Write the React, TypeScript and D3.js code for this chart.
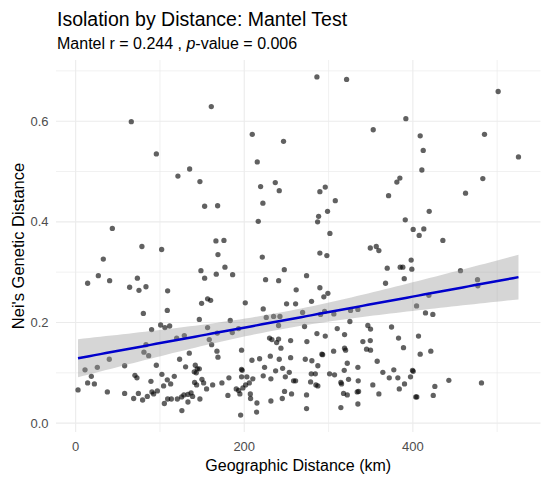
import React from "react";
import * as d3 from "d3";

const titleText = "Isolation by Distance: Mantel Test";
const mantelR = "0.244";
const pValue = "0.006";
const xAxisTitle = "Geographic Distance (km)";
const yAxisTitle = "Nei's Genetic Distance";

const xMajorTicks = [0, 200, 400];
const xMinorTicks = [100, 300, 500];
const yMajorTicks = [0, 0.2, 0.4, 0.6];
const yMinorTicks = [0.1, 0.3, 0.5, 0.7];

const distanceKm = [
  160.9, 66.0, 95.7, 135.2, 121.3, 147.4, 153.0, 168.4, 43.5, 166.4, 78.6, 102.0,
  286.2, 321.4, 353.0, 209.5, 246.6, 215.4, 236.8, 219.4, 241.5, 222.1, 216.6, 175.9,
  296.1, 289.7, 308.0, 298.8, 288.2, 287.0, 301.6, 349.5, 356.6, 359.7,
  501.2, 391.7, 408.7, 485.0, 412.3, 525.3, 410.7, 384.6, 381.0, 483.0, 371.2, 462.5,
  419.4, 391.0, 400.4, 413.0, 407.5, 435.6,
  32.8, 26.9, 14.2, 40.3, 73.2, 64.0, 75.1, 83.4, 109.1, 168.8, 148.6, 153.0, 166.8,
  156.5, 160.1, 149.4, 80.3, 108.7, 146.7, 100.8, 105.9, 111.5, 90.1, 156.5, 119.8,
  128.9, 158.5, 161.3, 83.4, 81.0, 86.6, 167.6, 134.8, 168.8, 123.3, 39.9, 11.1, 25.7,
  58.1, 95.7, 130.4, 141.9, 144.3, 140.7, 146.7, 143.1, 18.6, 14.2, 22.2, 2.8, 37.6,
  70.3, 72.7, 102.3, 117.0, 108.7, 112.7, 89.3, 104.3, 141.1, 143.5, 149.8, 155.3,
  162.5, 151.8, 147.4, 58.1, 74.4, 68.8, 85.0, 79.4, 90.5, 96.9, 92.5, 105.2, 109.1,
  113.5, 120.6, 125.7, 128.4, 133.2, 138.7, 133.2, 126.0, 136.9,
  221.4, 289.7, 298.0, 177.1, 186.2, 247.5, 225.3, 240.8, 273.9, 261.6, 289.7, 294.4,
  299.2, 201.2, 250.2, 260.9, 279.8, 222.5, 226.1, 234.8, 242.3, 269.2, 183.4, 240.7,
  271.5, 290.5, 295.3, 306.3, 326.1, 334.8, 325.3, 346.6, 349.8, 310.3, 185.8, 193.3,
  168.0, 230.0, 232.8, 238.4, 240.7, 255.0, 274.3, 286.2, 296.1, 319.0, 340.7, 349.5,
  196.8, 243.5, 306.0, 319.0, 320.2, 292.1, 293.0, 345.1, 349.8, 209.1, 218.2, 230.9,
  241.5, 255.0, 272.4, 280.2, 224.1, 196.8, 197.5, 237.2, 245.5, 253.4, 222.5, 231.6,
  248.7, 258.5, 260.9, 279.5, 284.3, 287.3, 301.2, 307.1, 322.2, 318.6, 334.8, 173.5,
  181.8, 196.8, 203.1, 210.2, 206.0, 201.6, 198.4, 190.5, 194.8, 193.3, 180.6, 207.2,
  207.5, 215.0, 195.7, 214.6, 231.6, 245.1, 247.8, 256.1, 273.9, 273.9, 278.7, 285.0,
  287.3, 314.6, 315.4, 317.8, 322.2, 323.7, 335.2, 334.0, 335.6, 334.8, 314.6, 352.5,
  398.0, 369.6, 385.0, 388.1, 398.8, 456.5, 367.6, 389.8, 476.7, 477.1, 419.0, 404.4,
  415.0, 423.7, 374.7, 406.7, 383.0, 388.9, 408.7, 421.3, 357.7, 364.4, 377.4, 372.0,
  382.2, 399.6, 400.4, 397.2, 359.7, 383.9, 390.1, 403.5, 404.7, 424.2, 426.1, 442.7,
  481.4,
];

const neiDistance = [
  0.629, 0.599, 0.535, 0.505, 0.491, 0.48, 0.431, 0.432, 0.387, 0.362, 0.351, 0.345,
  0.688, 0.683, 0.583, 0.574, 0.56, 0.519, 0.478, 0.47, 0.462, 0.437, 0.401, 0.363,
  0.469, 0.46, 0.442, 0.421, 0.411, 0.4, 0.377, 0.348, 0.351, 0.343,
  0.659, 0.605, 0.571, 0.574, 0.542, 0.529, 0.503, 0.487, 0.479, 0.486, 0.452, 0.457,
  0.421, 0.404, 0.385, 0.386, 0.373, 0.363,
  0.326, 0.293, 0.278, 0.283, 0.288, 0.27, 0.264, 0.271, 0.263, 0.335, 0.303, 0.288, 0.296,
  0.247, 0.244, 0.238, 0.218, 0.224, 0.206, 0.195, 0.19, 0.193, 0.186, 0.19, 0.169,
  0.174, 0.166, 0.156, 0.156, 0.141, 0.134, 0.143, 0.139, 0.131, 0.127, 0.127, 0.106, 0.111,
  0.114, 0.115, 0.112, 0.115, 0.108, 0.102, 0.108, 0.1, 0.093, 0.08, 0.078, 0.066, 0.062,
  0.095, 0.09, 0.097, 0.093, 0.086, 0.078, 0.083, 0.074, 0.081, 0.076, 0.087, 0.068,
  0.076, 0.08, 0.048, 0.059, 0.059, 0.049, 0.053, 0.046, 0.062, 0.064, 0.058, 0.039, 0.048,
  0.048, 0.048, 0.052, 0.056, 0.057, 0.053, 0.042, 0.025, 0.06,
  0.33, 0.338, 0.333, 0.31, 0.295, 0.305, 0.285, 0.283, 0.293, 0.265, 0.269, 0.251,
  0.258, 0.239, 0.237, 0.237, 0.242, 0.227, 0.21, 0.212, 0.212, 0.22, 0.204, 0.194,
  0.192, 0.216, 0.222, 0.217, 0.224, 0.226, 0.202, 0.194, 0.187, 0.188, 0.18, 0.188,
  0.179, 0.169, 0.166, 0.16, 0.167, 0.164, 0.162, 0.178, 0.173, 0.176, 0.162, 0.164,
  0.145, 0.149, 0.143, 0.149, 0.145, 0.137, 0.136, 0.147, 0.145, 0.125, 0.128, 0.133,
  0.127, 0.13, 0.127, 0.124, 0.111, 0.107, 0.105, 0.104, 0.109, 0.101, 0.094, 0.088,
  0.092, 0.084, 0.084, 0.098, 0.098, 0.114, 0.098, 0.096, 0.119, 0.105, 0.111, 0.08,
  0.09, 0.092, 0.092, 0.088, 0.08, 0.076, 0.07, 0.068, 0.058, 0.065, 0.055, 0.058,
  0.049, 0.04, 0.016, 0.022, 0.044, 0.049, 0.063, 0.058, 0.056, 0.029, 0.082, 0.076,
  0.074, 0.081, 0.078, 0.059, 0.056, 0.087, 0.084, 0.062, 0.063, 0.038, 0.031, 0.076,
  0.324, 0.308, 0.31, 0.31, 0.306, 0.303, 0.278, 0.287, 0.285, 0.273, 0.254, 0.233,
  0.219, 0.216, 0.191, 0.173, 0.169, 0.15, 0.137, 0.143, 0.123, 0.101, 0.106, 0.09,
  0.09, 0.105, 0.103, 0.092, 0.058, 0.068, 0.078, 0.052, 0.052, 0.055, 0.073, 0.085,
  0.08,
];

const W = 550;
const H = 484;
const panel = { left: 56, right: 540.5, top: 60, bottom: 432 };
const FONT = "'Liberation Sans', Arial, Helvetica, sans-serif";

function fitLm(xs: number[], ys: number[]) {
  const n = xs.length;
  const xbar = d3.mean(xs) as number;
  const ybar = d3.mean(ys) as number;
  let sxx = 0;
  let sxy = 0;
  for (let i = 0; i < n; i++) {
    sxx += (xs[i] - xbar) ** 2;
    sxy += (xs[i] - xbar) * (ys[i] - ybar);
  }
  const b = sxy / sxx;
  const a = ybar - b * xbar;
  let sse = 0;
  for (let i = 0; i < n; i++) sse += (ys[i] - (a + b * xs[i])) ** 2;
  const s = Math.sqrt(sse / (n - 2));
  const t = 1.968;
  const [x0, x1] = d3.extent(xs) as [number, number];
  const grid = d3.range(80).map((i) => x0 + ((x1 - x0) * i) / 79);
  return grid.map((x) => {
    const fit = a + b * x;
    const se = s * Math.sqrt(1 / n + (x - xbar) ** 2 / sxx);
    return { x, fit, lo: fit - t * se, hi: fit + t * se };
  });
}

export default function App() {
  const pts = distanceKm.map((d, i) => ({ x: d, y: neiDistance[i] }));
  const smooth = fitLm(distanceKm, neiDistance);

  const [xMin, xMax] = d3.extent(distanceKm) as [number, number];
  const yAll = [...neiDistance, ...smooth.map((s) => s.lo), ...smooth.map((s) => s.hi)];
  const [yMin, yMax] = d3.extent(yAll) as [number, number];
  const xPad = (xMax - xMin) * 0.05;
  const yPad = (yMax - yMin) * 0.05;

  const x = d3.scaleLinear().domain([xMin - xPad, xMax + xPad]).range([panel.left, panel.right]);
  const y = d3.scaleLinear().domain([yMin - yPad, yMax + yPad]).range([panel.bottom, panel.top]);

  const area = d3
    .area<{ x: number; lo: number; hi: number }>()
    .x((d) => x(d.x))
    .y0((d) => y(d.lo))
    .y1((d) => y(d.hi));
  const line = d3
    .line<{ x: number; fit: number }>()
    .x((d) => x(d.x))
    .y((d) => y(d.fit));

  const grid = "#EBEBEB";
  const midX = (panel.left + panel.right) / 2;
  const midY = (panel.top + panel.bottom) / 2;

  return (
    <svg
      width={W}
      height={H}
      style={{ position: "absolute", left: 0, top: 0, background: "#fff" }}
      fontFamily={FONT}
    >
      <rect x={0} y={0} width={W} height={H} fill="#fff" />
      {yMinorTicks.map((t) => (
        <line key={"ym" + t} x1={panel.left} x2={panel.right} y1={y(t)} y2={y(t)} stroke={grid} strokeWidth={0.7} />
      ))}
      {xMinorTicks.map((t) => (
        <line key={"xm" + t} x1={x(t)} x2={x(t)} y1={panel.top} y2={panel.bottom} stroke={grid} strokeWidth={0.7} />
      ))}
      {yMajorTicks.map((t) => (
        <line key={"yM" + t} x1={panel.left} x2={panel.right} y1={y(t)} y2={y(t)} stroke={grid} strokeWidth={1.1} />
      ))}
      {xMajorTicks.map((t) => (
        <line key={"xM" + t} x1={x(t)} x2={x(t)} y1={panel.top} y2={panel.bottom} stroke={grid} strokeWidth={1.1} />
      ))}

      {pts.map((p, i) => (
        <circle key={i} cx={x(p.x)} cy={y(p.y)} r={2.65} fill="#000" fillOpacity={0.62} />
      ))}

      <path d={area(smooth) || ""} fill="#999999" fillOpacity={0.4} />
      <path d={line(smooth) || ""} fill="none" stroke="#0000CC" strokeWidth={2.5} />

      {yMajorTicks.map((t) => (
        <text key={"yl" + t} x={48.5} y={y(t)} dy="0.35em" textAnchor="end" fontSize={13} fill="#4D4D4D">
          {d3.format(".1f")(t)}
        </text>
      ))}
      {xMajorTicks.map((t) => (
        <text key={"xl" + t} x={x(t)} y={450.7} textAnchor="middle" fontSize={13} fill="#4D4D4D">
          {String(t)}
        </text>
      ))}

      <text x={midX} y={471} textAnchor="middle" fontSize={16} fill="#000">
        {xAxisTitle}
      </text>
      <text transform={`translate(24,${midY}) rotate(-90)`} textAnchor="middle" fontSize={16.5} fill="#000">
        {yAxisTitle}
      </text>

      <text x={57} y={26} fontSize={19.5} fill="#000">
        {titleText}
      </text>
      <text x={57} y={49.3} fontSize={16} fill="#000">
        {"Mantel r = " + mantelR + " , "}
        <tspan fontStyle="italic">p</tspan>
        {"-value = " + pValue}
      </text>
    </svg>
  );
}
